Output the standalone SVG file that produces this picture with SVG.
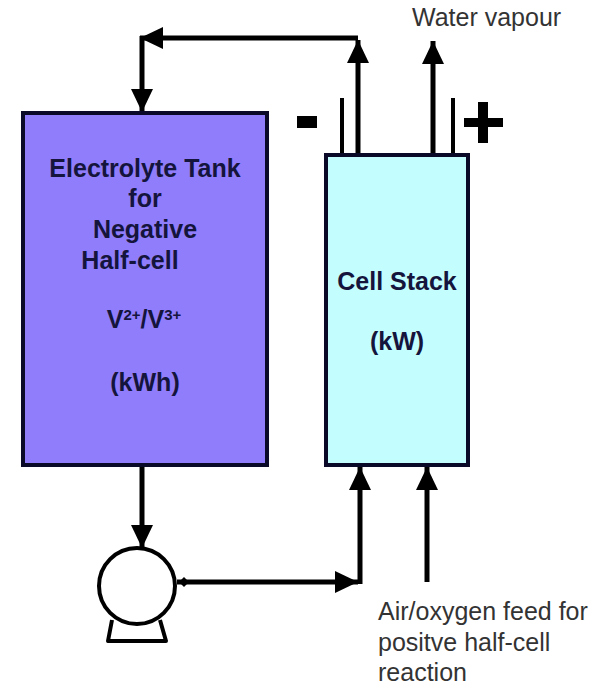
<svg xmlns="http://www.w3.org/2000/svg" width="602" height="685" viewBox="0 0 602 685">
<style>
.box{stroke:#0a0a28;stroke-width:4}
.l{fill:none;stroke:#000;stroke-width:5}
.t{font-family:"Liberation Sans",Arial,sans-serif;font-size:25px;fill:#333}
.b{font-family:"Liberation Sans",Arial,sans-serif;font-size:25px;font-weight:bold;fill:#14143c;text-anchor:middle}
.sup{font-size:15px}
</style>
<defs>
<marker id="a" markerUnits="userSpaceOnUse" markerWidth="24" markerHeight="24" refX="23" refY="12" orient="auto"><path d="M0 1L23 12L0 23Z" fill="#000"/></marker>
</defs>
<rect width="602" height="685" fill="#fff"/>
<g id="connectors">
<path class="l" d="M358 155V40" marker-end="url(#a)"/>
<path class="l" d="M358 38H140" marker-end="url(#a)"/>
<path class="l" d="M142 36V112" marker-end="url(#a)"/>
<path class="l" d="M433 155V41" marker-end="url(#a)"/>
<path class="l" d="M142 466V548" marker-end="url(#a)"/>
<path class="l" d="M177 582H358" marker-end="url(#a)"/>
<path d="M179 582L184 577L189 582L184 587Z" fill="#000"/>
<path class="l" stroke-width="6" d="M360 584V467" marker-end="url(#a)"/>
<path class="l" d="M427 582V467" marker-end="url(#a)"/>
<path d="M342 155V98M453 155V98" fill="none" stroke="#000" stroke-width="4"/>
</g>
<g id="tank">
<rect class="box" x="23" y="113" width="244" height="352" fill="#8f7dfb"/>
<text class="b"><tspan x="145" y="177">Electrolyte Tank</tspan><tspan x="145" y="207">for</tspan><tspan x="145" y="238">Negative</tspan><tspan x="130" y="269">Half-cell</tspan><tspan x="144" y="328">V<tspan class="sup" dy="-8">2+</tspan><tspan dy="8">/V</tspan><tspan class="sup" dy="-8">3+</tspan></tspan><tspan x="145" y="391">(kWh)</tspan></text>
</g>
<g id="stack">
<rect class="box" x="326" y="155" width="142" height="310" fill="#c4fdfd"/>
<text class="b"><tspan x="397" y="290">Cell Stack</tspan><tspan x="397" y="350">(kW)</tspan></text>
</g>
<g id="pump" fill="none" stroke="#000" stroke-width="4">
<path d="M112 620L108 641H166L160 620" stroke-linejoin="round"/>
<circle cx="137" cy="586" r="38" fill="#fff"/>
</g>
<g id="signs" fill="#000">
<rect x="297" y="116" width="20" height="12"/>
<path d="M478 102H488V118H503V127H488V143H478V127H464V118H478Z"/>
</g>
<g id="labels">
<text class="t" x="412" y="26">Water vapour</text>
<text class="t"><tspan x="378" y="620">Air/oxygen feed for</tspan><tspan x="378" y="651">positve half-cell</tspan><tspan x="378" y="681">reaction</tspan></text>
</g>
</svg>
